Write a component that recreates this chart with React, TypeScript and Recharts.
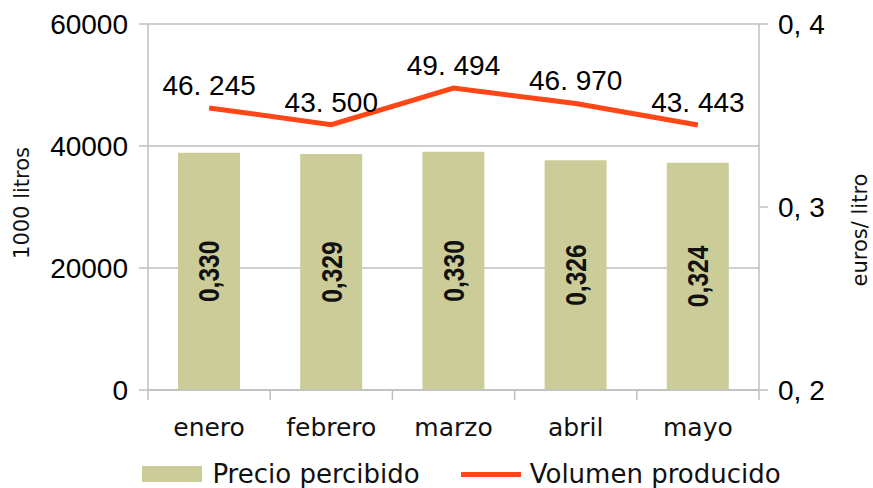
import {
  ComposedChart,
  Bar,
  Line,
  XAxis,
  YAxis,
  CartesianGrid,
  Legend,
  LabelList,
  Label,
} from 'recharts';

const CATEGORIES = ['enero', 'febrero', 'marzo', 'abril', 'mayo'];
const PRECIO = [0.3297, 0.3289, 0.3302, 0.3256, 0.3242];
const VOLUMEN = [46245, 43500, 49494, 46970, 43443];
const VOL_TICKS = [0, 20000, 40000, 60000];
const PRECIO_TICKS = [0.2, 0.3, 0.4];

const BAR_COLOR = '#cccc99';
const LINE_COLOR = '#ff4616';
const GRID = '#bfbfbf';
const NUM_FONT = "'Liberation Sans', Arial, sans-serif";
const TXT_FONT = "'DejaVu Sans', sans-serif";
const X_TICK_GAP = 28;

const data = CATEGORIES.map((mes, i) => ({
  mes,
  precio: PRECIO[i],
  volumen: VOLUMEN[i],
}));

function fmtVol(v: number) {
  return `${Math.floor(v / 1000)}. ${String(v % 1000).padStart(3, '0')}`;
}

function fmtPrecio(v: number) {
  return v.toFixed(3).replace('.', ',');
}

// month label plus tick marks on the category boundaries (Excel style)
function MonthTick(props: any) {
  const { x, y, payload, index, visibleTicksCount } = props;
  const half = payload?.offset ?? 0;
  const axisY = y - X_TICK_GAP;
  const isLast = index === visibleTicksCount - 1;
  return (
    <g>
      <line x1={x - half} x2={x - half} y1={axisY} y2={axisY + 10} stroke={GRID} strokeWidth={1.5} />
      {isLast && (
        <line x1={x + half} x2={x + half} y1={axisY} y2={axisY + 10} stroke={GRID} strokeWidth={1.5} />
      )}
      <text
        x={x}
        y={y}
        dy="0.71em"
        textAnchor="middle"
        fill="#111"
        fontSize={25}
        fontFamily={TXT_FONT}
      >
        {payload.value}
      </text>
    </g>
  );
}

// bold narrow value label, rotated, in the middle of the bar
function BarValue(props: any) {
  const { x, y, width, height, value } = props;
  const cx = Number(x) + Number(width) / 2;
  const cy = Number(y) + Number(height) / 2;
  return (
    <text
      transform={`translate(${cx} ${cy}) rotate(-90) scale(0.82 1)`}
      textAnchor="middle"
      dominantBaseline="central"
      fontFamily={NUM_FONT}
      fontWeight="bold"
      fontSize={30}
      fill="#111"
    >
      {fmtPrecio(value)}
    </text>
  );
}

function AxisTitle({ viewBox, text, side }: any) {
  const cx = side === 'left' ? viewBox.x + 22 : viewBox.x + viewBox.width - 13;
  const cy = viewBox.y + viewBox.height / 2 + (side === 'left' ? -4 : 23);
  return (
    <text
      x={cx}
      y={cy}
      transform={`rotate(-90 ${cx} ${cy})`}
      textAnchor="middle"
      dominantBaseline="central"
      fontFamily={TXT_FONT}
      fontSize={21}
      fill="#111"
    >
      {text}
    </text>
  );
}

function ChartLegend() {
  return (
    <div
      style={{
        height: 40,
        paddingTop: 14,
        boxSizing: 'border-box',
        display: 'flex',
        justifyContent: 'center',
        paddingLeft: 50,
        fontFamily: TXT_FONT,
        fontSize: 26,
        color: '#111',
        whiteSpace: 'nowrap',
      }}
    >
      <div style={{ display: 'flex', alignItems: 'center', height: 24 }}>
        <span style={{ width: 60, height: 16, background: BAR_COLOR, marginRight: 10 }} />
        <span>Precio percibido</span>
      </div>
      <div style={{ display: 'flex', alignItems: 'center', height: 24, marginLeft: 41 }}>
        <span style={{ width: 60, height: 5, background: LINE_COLOR, marginRight: 9 }} />
        <span>Volumen producido</span>
      </div>
    </div>
  );
}

export default function App() {
  return (
    <div style={{ position: 'absolute', left: 0, top: 0, background: '#fff' }}>
      <ComposedChart
        width={873}
        height={488}
        data={data}
        margin={{ top: 24, right: 0, bottom: 0, left: 0 }}
      >
        <CartesianGrid
          xAxisId="cat"
          yAxisId="vol"
          vertical={false}
          stroke={GRID}
          strokeWidth={1.5}
        />
        <XAxis
          xAxisId="cat"
          dataKey="mes"
          interval={0}
          tickLine={false}
          tickSize={0}
          tickMargin={X_TICK_GAP}
          axisLine={{ stroke: GRID, strokeWidth: 1.5 }}
          height={58}
          tick={<MonthTick />}
        />
        <YAxis
          yAxisId="vol"
          orientation="left"
          width={148}
          domain={[0, 60000]}
          ticks={VOL_TICKS}
          interval={0}
          tickSize={9}
          tickMargin={11}
          tickLine={{ stroke: GRID, strokeWidth: 1.5 }}
          axisLine={{ stroke: GRID, strokeWidth: 1.5 }}
          tick={{ fill: '#000', fontSize: 28, fontFamily: NUM_FONT }}
        >
          <Label content={(p: any) => <AxisTitle {...p} text="1000 litros" side="left" />} />
        </YAxis>
        <YAxis
          yAxisId="precio"
          orientation="right"
          width={114}
          domain={[0.2, 0.4]}
          ticks={PRECIO_TICKS}
          interval={0}
          tickSize={9}
          tickMargin={10}
          tickFormatter={(v: number) => v.toFixed(1).replace('.', ', ')}
          tickLine={{ stroke: GRID, strokeWidth: 1.5 }}
          axisLine={{ stroke: GRID, strokeWidth: 1.5 }}
          tick={{ fill: '#000', fontSize: 28, fontFamily: NUM_FONT }}
        >
          <Label content={(p: any) => <AxisTitle {...p} text="euros/ litro" side="right" />} />
        </YAxis>
        <Legend verticalAlign="bottom" height={40} content={() => <ChartLegend />} />
        <Bar
          xAxisId="cat"
          yAxisId="precio"
          dataKey="precio"
          name="Precio percibido"
          fill={BAR_COLOR}
          barSize={62}
          isAnimationActive={false}
        >
          <LabelList dataKey="precio" content={BarValue} />
        </Bar>
        <Line
          xAxisId="cat"
          yAxisId="vol"
          dataKey="volumen"
          name="Volumen producido"
          type="linear"
          stroke={LINE_COLOR}
          strokeWidth={5}
          dot={false}
          activeDot={false}
          isAnimationActive={false}
        >
          <LabelList
            dataKey="volumen"
            position="top"
            offset={13}
            formatter={(v: any) => fmtVol(Number(v))}
            fill="#000"
            fontSize={28}
            fontFamily={NUM_FONT}
          />
        </Line>
      </ComposedChart>
    </div>
  );
}
